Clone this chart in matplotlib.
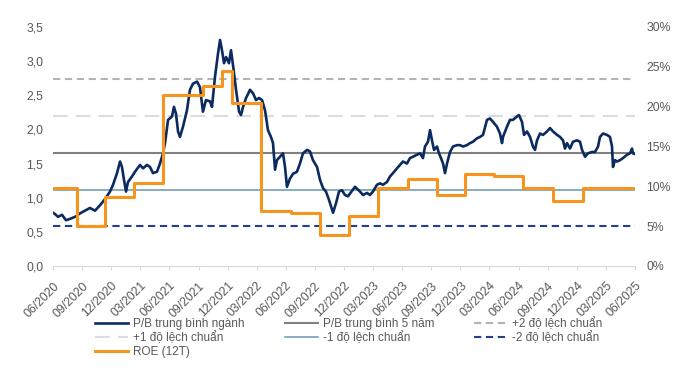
import matplotlib
matplotlib.use("Agg")
import matplotlib.pyplot as plt
from matplotlib.ticker import FuncFormatter, MultipleLocator

plt.rcParams['font.family'] = ['Liberation Sans', 'DejaVu Sans']

# ---- data (x in months since 06/2020) ----
tick_labels = ["06/2020", "09/2020", "12/2020", "03/2021", "06/2021", "09/2021", "12/2021",
               "03/2022", "06/2022", "09/2022", "12/2022", "03/2023", "06/2023", "09/2023",
               "12/2023", "03/2024", "06/2024", "09/2024", "12/2024", "03/2025", "06/2025"]

pb_month = [0.0, 0.21, 0.52, 0.93, 1.34, 1.75, 2.27, 2.78, 3.30, 3.81, 4.33, 4.85, 5.36, 5.88,
            6.19, 6.60, 6.91, 7.11, 7.32, 7.53, 7.73, 8.14, 8.45, 8.97, 9.28, 9.69, 10.0, 10.31,
            10.72, 11.03, 11.34, 11.55, 11.86, 12.27, 12.47, 12.68, 12.89, 13.09, 13.40, 13.81,
            14.12, 14.43, 14.85, 15.15, 15.46, 15.77, 16.19, 16.39, 16.70, 17.01, 17.22, 17.42,
            17.63, 17.84, 18.14, 18.35, 18.56, 18.87, 19.18, 19.38, 19.59, 19.90, 20.31, 20.62,
            20.93, 21.24, 21.55, 21.86, 22.16, 22.47, 22.68, 22.89, 23.09, 23.40, 23.71, 23.92,
            24.12, 24.43, 24.74, 25.15, 25.46, 25.77, 26.19, 26.49, 26.80, 27.22, 27.53, 27.84,
            28.14, 28.45, 28.87, 29.18, 29.48, 29.79, 30.10, 30.41,
            30.62, 31.13, 31.65, 31.96, 32.37, 32.68, 32.99, 33.40, 33.71, 34.02, 34.43, 34.74,
            35.05, 35.46, 35.77, 36.08, 36.49, 36.80, 37.11, 37.53, 37.84, 38.14, 38.35, 38.66,
            38.87, 39.07, 39.28, 39.59, 39.79, 40.0, 40.21, 40.41, 40.62, 40.93, 41.24, 41.65,
            41.96, 42.27, 42.68, 42.99, 43.30, 43.71, 44.02, 44.33, 44.74, 45.05, 45.36, 45.77,
            46.08, 46.29, 46.39, 46.80, 47.11, 47.42, 47.84, 48.04, 48.35, 48.56, 48.87, 49.18,
            49.48, 49.69, 49.90, 50.21, 50.52, 50.93, 51.24, 51.55, 51.96, 52.27, 52.58, 52.78,
            52.99, 53.30, 53.61, 54.02, 54.33, 54.54, 54.85, 55.15, 55.57, 55.88, 56.19, 56.39,
            56.70, 57.11, 57.42, 57.63, 57.73, 57.94, 58.14, 58.45, 58.76, 59.18, 59.48, 59.69,
            59.79, 60.0]

pb_values = [0.78, 0.76, 0.72, 0.75, 0.67, 0.69, 0.72, 0.77, 0.81, 0.85, 0.81, 0.89, 0.98, 1.09,
             1.19, 1.36, 1.53, 1.45, 1.26, 1.09, 1.23, 1.31, 1.38, 1.48, 1.43, 1.48, 1.45, 1.36,
             1.38, 1.50, 1.65, 1.80, 2.14, 2.19, 2.33, 2.23, 1.97, 1.89, 2.04, 2.28,
             2.58, 2.67, 2.70, 2.62, 2.26, 2.43, 2.41, 2.33, 2.77, 3.11, 3.31, 3.16,
             2.97, 3.06, 2.97, 3.16, 2.94, 2.58, 2.26, 2.21, 2.33, 2.46, 2.58, 2.53,
             2.43, 2.46, 2.43, 2.28, 1.99, 1.89, 1.80, 1.41, 1.55, 1.60, 1.65, 1.45,
             1.16, 1.28, 1.35, 1.38, 1.50, 1.65, 1.70, 1.68, 1.55, 1.45, 1.26, 1.14,
             1.09, 0.97, 0.78, 0.92, 1.09, 1.11, 1.04, 1.02,
             1.06, 1.16, 1.09, 1.04, 1.07, 1.04, 1.09, 1.19, 1.21, 1.19, 1.23, 1.31,
             1.36, 1.43, 1.48, 1.53, 1.50, 1.58, 1.60, 1.63, 1.65, 1.58, 1.75, 1.82,
             1.99, 1.84, 1.70, 1.75, 1.65, 1.58, 1.50, 1.36, 1.50, 1.67, 1.75, 1.77,
             1.77, 1.75, 1.77, 1.80, 1.82, 1.87, 1.89, 1.92, 2.14, 2.16, 2.11, 2.04,
             1.94, 1.80, 1.89, 2.04, 2.14, 2.14, 2.19, 2.21, 2.11, 1.92, 1.97, 1.89,
             1.75, 1.70, 1.84, 1.94, 1.92, 1.97, 2.02, 1.97, 1.92, 1.89, 1.84, 1.72,
             1.80, 1.72, 1.82, 1.84, 1.82, 1.70, 1.60, 1.65, 1.67, 1.67, 1.75, 1.89,
             1.94, 1.92, 1.89, 1.75, 1.45, 1.55, 1.53, 1.55, 1.58, 1.63, 1.65, 1.72,
             1.65, 1.64]

pb_mean_5y = 1.66
pb_std = 0.54

roe_month = [0.0, 2.44, 5.36, 8.38, 11.37, 15.5, 17.4, 18.5, 21.4, 24.5, 27.5, 30.5, 33.5,
             36.6, 39.6, 42.5, 45.5, 48.5, 51.5, 54.6, 60.0]
roe_values = [9.8, 5.0, 8.7, 10.4, 21.5, 22.6, 24.5, 20.4, 6.9, 6.6, 3.9, 6.3, 9.75,
              10.9, 8.9, 11.5, 11.3, 9.75, 8.15, 9.8, 9.8]

labels = ["P/B trung bình ngành", "P/B trung bình 5 năm", "+2 độ lệch chuẩn",
          "+1 độ lệch chuẩn", "-1 độ lệch chuẩn", "-2 độ lệch chuẩn", "ROE (12T)"]

# ---- styles ----
c_pb = "#0b2a5f"
c_mean = "#808080"
c_p2 = "#b3b3b3"
c_p1 = "#dcdcdc"
c_m1 = "#6797ad"
c_m2 = "#23408f"
c_roe = "#f7941d"
txt = "#595959"

fig = plt.figure(figsize=(6.94, 3.70), dpi=100)
ax = fig.add_axes([53/694, 1 - 266/370, (635-53)/694, (266-27)/370])
ax2 = ax.twinx()

ax.set_xlim(0, 60)
ax.set_ylim(0, 3.5)
ax2.set_ylim(0, 30)

lp2 = ax.axhline(pb_mean_5y + 2*pb_std, color=c_p2, lw=1.5, dashes=(3.5, 2.2), zorder=1)
lp1 = ax.axhline(pb_mean_5y + pb_std, color=c_p1, lw=1.5, dashes=(7, 4), zorder=1)
lmean = ax.axhline(pb_mean_5y, color=c_mean, lw=1.5, zorder=1)
lm1 = ax.axhline(pb_mean_5y - pb_std, color=c_m1, lw=1.1, zorder=1)
lm2 = ax.axhline(pb_mean_5y - 2*pb_std, color=c_m2, lw=1.5, dashes=(3.5, 2.2), zorder=1)
lpb, = ax.plot(pb_month, pb_values, color=c_pb, lw=1.9, zorder=2)

lroe, = ax2.plot(roe_month, roe_values, color=c_roe, lw=2.2, drawstyle='steps-post')

# axes styling
for a in (ax, ax2):
    for s in ("top", "left", "right"):
        a.spines[s].set_visible(False)
ax.spines["bottom"].set_color("#d9d9d9")
ax2.spines["bottom"].set_visible(False)

ax.yaxis.set_major_locator(MultipleLocator(0.5))
ax.yaxis.set_major_formatter(FuncFormatter(lambda v, p: f"{v:.1f}".replace(".", ",")))
ax2.yaxis.set_major_locator(MultipleLocator(5))
ax2.yaxis.set_major_formatter(FuncFormatter(lambda v, p: f"{v:.0f}%"))
ax.tick_params(axis='y', length=0, labelsize=8.8, labelcolor=txt, pad=7)
ax2.tick_params(axis='y', length=0, labelsize=8.8, labelcolor=txt, pad=8)

ax.set_xticks(range(0, 61, 3))
ax.set_xticklabels(tick_labels, rotation=45, ha='right', rotation_mode='anchor')
ax.tick_params(axis='x', length=3, color="#d9d9d9", labelsize=8.8, labelcolor=txt, pad=7)

handles = [lpb, lmean, lp2, lp1, lm1, lm2, lroe]
order = [0, 3, 6, 1, 4, 2, 5]
leg = fig.legend([handles[i] for i in order], [labels[i] for i in order],
                 loc='upper left', bbox_to_anchor=(95/694, 1 - 317/370), ncol=3,
                 frameon=False, fontsize=8.5, labelcolor=txt, handlelength=2.8,
                 handletextpad=0.42, columnspacing=3.4, labelspacing=0.15,
                 borderaxespad=0, borderpad=0)

fig.savefig("out.png", dpi=100)
